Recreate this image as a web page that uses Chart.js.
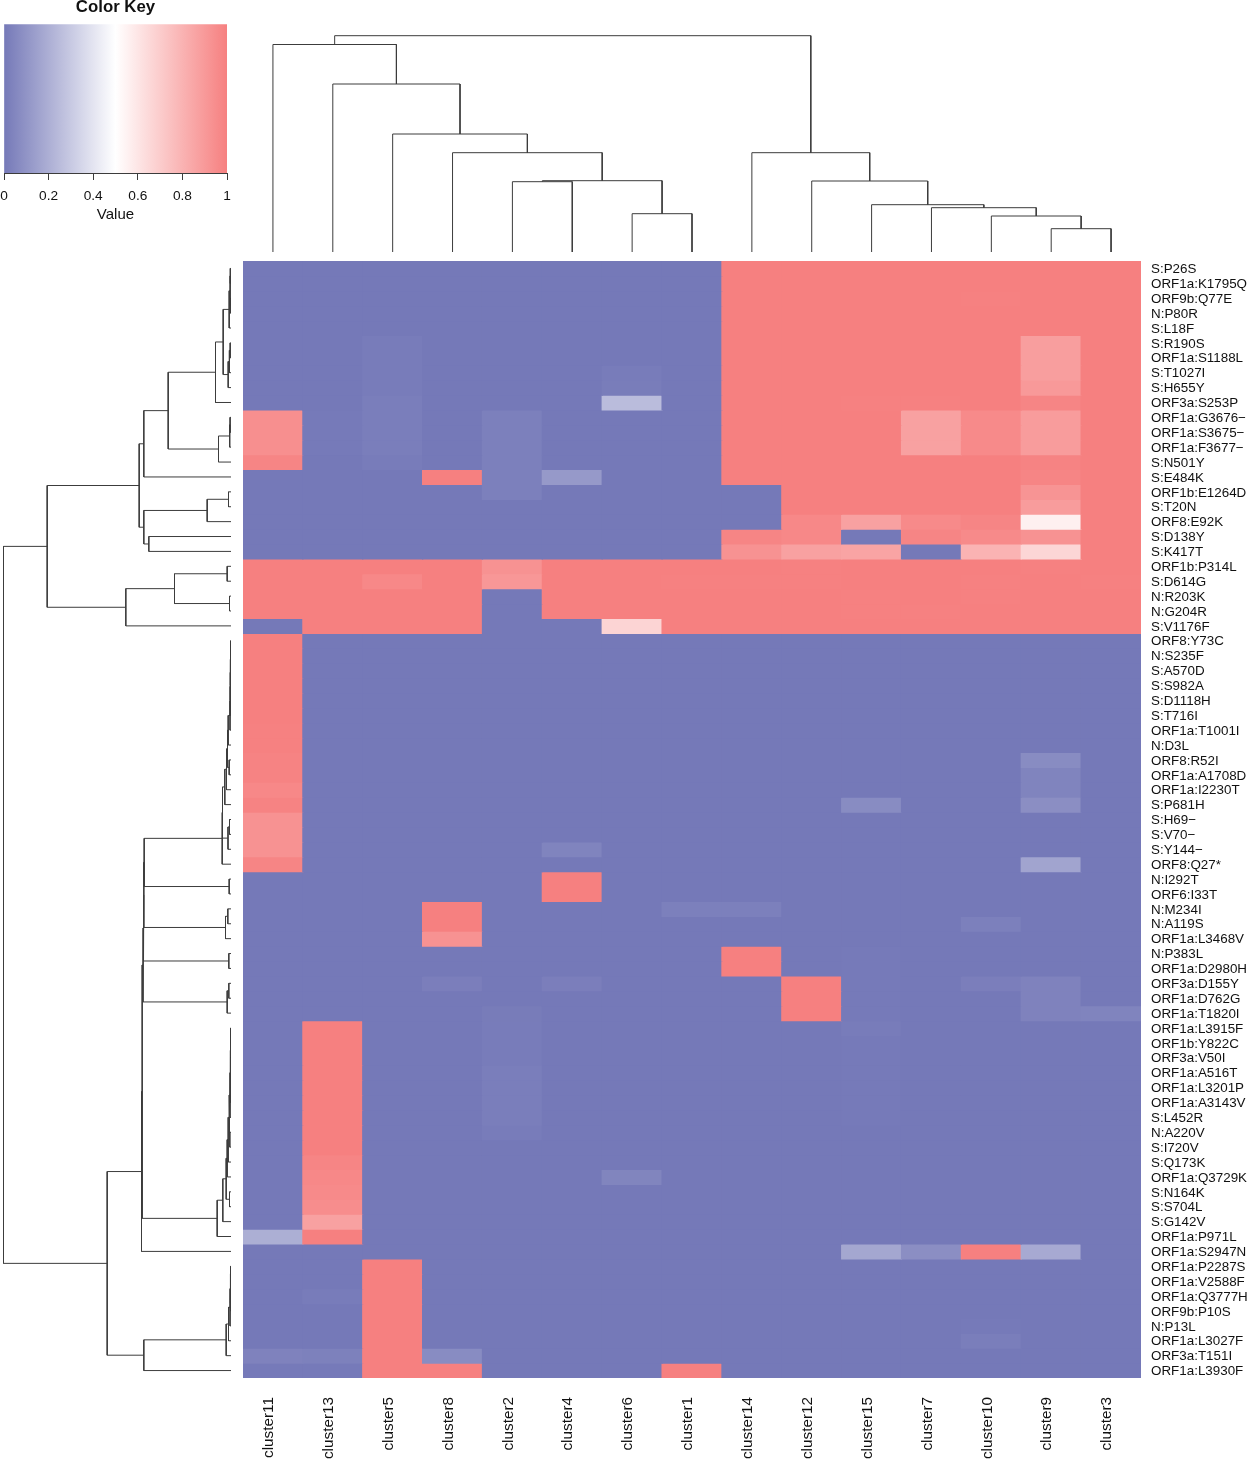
<!DOCTYPE html>
<html>
<head>
<meta charset="utf-8">
<title>Cluster mutation heatmap</title>
<script src="https://cdn.jsdelivr.net/npm/chart.js@4"></script>
<style>
  html, body { margin: 0; padding: 0; background: #fff; overflow: hidden; width: 1248px; height: 1460px; }
  canvas { position: absolute; }
  #keyChart { left: -20px; top: -3px; }
  #topChart { left: 243px; top: 30px; }
  #sideChart { left: 0; top: 261px; }
  #heatChart { left: 243px; top: 261px; }
</style>
</head>
<body>
<canvas id="keyChart" width="280" height="227"></canvas>
<canvas id="topChart" width="898" height="222"></canvas>
<canvas id="sideChart" width="231" height="1117"></canvas>
<canvas id="heatChart" width="1005" height="1199"></canvas>
<script>
const clusters = ["cluster11", "cluster13", "cluster5", "cluster8", "cluster2", "cluster4", "cluster6", "cluster1",
  "cluster14", "cluster12", "cluster15", "cluster7", "cluster10", "cluster9", "cluster3"];

const mutations = ["S:P26S", "ORF1a:K1795Q", "ORF9b:Q77E", "N:P80R", "S:L18F", "S:R190S", "ORF1a:S1188L", "S:T1027I",
  "S:H655Y", "ORF3a:S253P", "ORF1a:G3676−", "ORF1a:S3675−", "ORF1a:F3677−", "S:N501Y", "S:E484K", "ORF1b:E1264D",
  "S:T20N", "ORF8:E92K", "S:D138Y", "S:K417T", "ORF1b:P314L", "S:D614G", "N:R203K", "N:G204R", "S:V1176F",
  "ORF8:Y73C", "N:S235F", "S:A570D", "S:S982A", "S:D1118H", "S:T716I", "ORF1a:T1001I", "N:D3L", "ORF8:R52I",
  "ORF1a:A1708D", "ORF1a:I2230T", "S:P681H", "S:H69−", "S:V70−", "S:Y144−", "ORF8:Q27*", "N:I292T", "ORF6:I33T",
  "N:M234I", "N:A119S", "ORF1a:L3468V", "N:P383L", "ORF1a:D2980H", "ORF3a:D155Y", "ORF1a:D762G", "ORF1a:T1820I",
  "ORF1a:L3915F", "ORF1b:Y822C", "ORF3a:V50I", "ORF1a:A516T", "ORF1a:L3201P", "ORF1a:A3143V", "S:L452R", "N:A220V",
  "S:I720V", "S:Q173K", "ORF1a:Q3729K", "S:N164K", "S:S704L", "S:G142V", "ORF1a:P971L", "ORF1a:S2947N",
  "ORF1a:P2287S", "ORF1a:V2588F", "ORF1a:Q3777H", "ORF9b:P10S", "N:P13L", "ORF1a:L3027F", "ORF3a:T151I", "ORF1a:L3930F"];

// one row per mutation, columns in the order of clusters
const values = [
  [0,0,0,0,0,0,0,0,1,1,1,1,1,1,1],
  [0,0,0,0,0,0,0,0,1,1,1,1,1,1,1],
  [0,0,0,0,0,0,0,0,1,1,1,1,.995,1,1],
  [0,0,0,0,0,0,0,0,1,1,1,1,1,1,1],
  [0,0,0,0,0,0,0,0,1,1,1,1,1,1,1],
  [0,0,.012,0,0,0,0,0,1,1,1,1,1,.88,1],
  [0,0,.012,0,0,0,0,0,1,1,1,1,1,.88,1],
  [0,0,.012,0,0,0,.012,0,1,1,1,1,1,.88,1],
  [0,0,.012,0,0,0,.015,0,1,1,1,1,1,.9,1],
  [0,0,.018,0,0,0,.25,0,1,1,.995,.995,1,.98,1],
  [.94,.005,.018,0,.025,0,0,0,1,1,1,.87,.96,.89,1],
  [.94,.005,.018,0,.025,0,0,0,1,1,1,.87,.96,.89,1],
  [.94,.005,.018,0,.025,0,0,0,1,1,1,.87,.96,.89,1],
  [.98,0,.012,0,.025,0,0,0,1,1,1,1,1,.99,1],
  [0,0,0,1,.025,.12,0,0,1,1,1,1,1,.98,1],
  [0,0,0,0,.025,0,0,0,0,1,1,1,1,.92,1],
  [0,0,0,0,0,0,0,0,0,1,1,1,1,.89,1],
  [0,0,0,0,0,0,0,0,0,.97,.87,.96,.98,.56,1],
  [0,0,0,0,0,0,0,0,.98,.97,0,.98,.96,.93,1],
  [0,0,0,0,0,0,0,0,.93,.87,.86,0,.8,.66,1],
  [1,1,1,1,.93,1,1,1,1,.995,1,1,1,.995,1],
  [1,1,.97,1,.91,1,1,.995,.995,.995,1,1,.995,1,.995],
  [1,1,1,1,0,1,1,1,1,1,.995,1,.995,1,1],
  [1,1,1,1,0,1,1,1,1,1,.995,.995,1,1,1],
  [0,1,1,1,0,0,.67,1,1,1,1,1,1,1,1],
  [1,0,0,0,0,0,0,0,0,0,0,0,0,0,0],
  [1,0,0,0,0,0,0,0,0,0,0,0,0,0,0],
  [1,0,0,0,0,0,0,0,0,0,0,0,0,0,0],
  [1,0,0,0,0,0,0,0,0,0,0,0,0,0,0],
  [1,0,0,0,0,0,0,0,0,0,0,0,0,0,0],
  [1,0,0,0,0,0,0,0,0,0,0,0,0,0,0],
  [.995,0,0,0,0,0,0,0,0,0,0,0,0,0,0],
  [.995,0,0,0,0,0,0,0,0,0,0,0,0,0,0],
  [.99,0,0,0,0,0,0,0,0,0,0,0,0,.07,0],
  [.99,0,0,0,0,0,0,0,0,0,0,0,0,.04,0],
  [.97,0,0,0,0,0,0,0,0,0,0,0,0,.04,0],
  [.99,0,0,0,0,0,0,0,0,0,.07,0,0,.08,0],
  [.93,0,0,0,0,0,0,0,0,0,0,0,0,0,0],
  [.93,0,0,0,0,0,0,0,0,0,0,0,0,0,0],
  [.93,0,0,0,0,.04,0,0,0,0,0,0,0,0,0],
  [.98,0,0,0,0,0,0,0,0,0,0,0,0,.16,0],
  [0,0,0,0,0,1,0,0,0,0,0,0,0,0,0],
  [0,0,0,0,0,1,0,0,0,0,0,0,0,0,0],
  [0,0,0,1,0,0,0,.025,.025,0,0,0,0,0,0],
  [0,0,0,1,0,0,0,0,0,0,0,0,.025,0,0],
  [0,0,0,.93,0,0,0,0,0,0,0,0,0,0,0],
  [0,0,0,0,0,0,0,0,1,0,.005,0,0,0,0],
  [0,0,0,0,0,0,0,0,1,0,.005,0,0,0,0],
  [0,0,0,.02,0,.02,0,0,0,1,.005,0,.02,.035,0],
  [0,0,0,0,0,0,0,0,0,1,.005,0,0,.035,0],
  [0,0,0,0,.01,0,0,0,0,1,.005,0,0,.035,.04],
  [0,1,0,0,.012,0,0,0,0,0,.012,0,0,0,0],
  [0,1,0,0,.012,0,0,0,0,0,.005,0,0,0,0],
  [0,1,0,0,.012,0,0,0,0,0,.005,0,0,0,0],
  [0,1,0,0,.018,0,0,0,0,0,.005,0,0,0,0],
  [0,1,0,0,.018,0,0,0,0,0,.005,0,0,0,0],
  [0,1,0,0,.018,0,0,0,0,0,.005,0,0,0,0],
  [0,1,0,0,.018,0,0,0,0,0,.005,0,0,0,0],
  [0,1,0,0,.012,0,0,0,0,0,0,0,0,0,0],
  [0,1,0,0,0,0,0,0,0,0,0,0,0,0,0],
  [0,.98,0,0,0,0,0,0,0,0,0,0,0,0,0],
  [0,.97,0,0,0,0,.045,0,0,0,0,0,0,0,0],
  [0,.96,0,0,0,0,0,0,0,0,0,0,0,0,0],
  [0,.95,0,0,0,0,0,0,0,0,0,0,0,0,0],
  [0,.87,0,0,0,0,0,0,0,0,0,0,0,0,0],
  [.2,1,0,0,0,0,0,0,0,0,0,0,0,0,0],
  [0,0,0,0,0,0,0,0,0,0,.17,.08,1,.18,0],
  [0,0,1,0,0,0,0,0,0,0,0,0,0,0,0],
  [0,0,1,0,0,0,0,0,0,0,0,0,0,0,0],
  [0,.012,1,0,0,0,0,0,0,0,0,0,0,0,0],
  [0,0,1,0,0,0,0,0,0,0,0,0,0,0,0],
  [0,0,1,0,0,0,0,0,0,0,0,0,.005,0,0],
  [0,0,1,0,0,0,0,0,0,0,0,0,.018,0,0],
  [.035,.03,1,.07,0,0,0,0,0,0,0,0,0,0,0],
  [.005,.005,1,1,0,0,0,1,0,0,0,0,0,0,0]
];

const keyTicks = [0, 0.2, 0.4, 0.6, 0.8, 1];

// dendrograms: [merge height, left child, right child], plain numbers are leaf positions (from 1)
const colLeft = [207.5, 1, [168, 2, [118, 3, [99.3, 4, [71.3, [70.3, 5, 6], [38.3, 7, 8]]]]]];
const colRight = [99.3, 9, [71, 10, [47.3, 11, [44.3, 12, [36, 13, [23.3, 14, 15]]]]]];
const colTree = [216.3, colLeft, colRight];

const rowsA = [15.5, [7.8, [1.8, [1, [.7, 1, 2], [.7, 3, 4]], 5], [2.8, [1.6, [.8, 6, 7], 8], 9]], 10];
const rowsB = [12.5, [1.3, [.9, 11, 12], 13], 14];
const rowsC = [87.2, [23.8, [2.5, 16, 17], 18], [82.2, 19, 20]];
const rowsD = [105.2, [56.5, [3.8, 21, 22], [1.5, 23, 24]], 25];
const rowsTop = [183.8, [91.8, [87.2, [62.8, rowsA, rowsB], 15], rowsC], rowsD];

const chain26 = [2.8, [1, [.8, [.7, [.6, [.5, [.4, 26, 27], 28], 29], 30], 31], 32], 33];
const rowsG1 = [8.8, [8.5, [6.2, [4.5, [3.5, chain26, [1.8, 34, 35]], 36], 37], [3, [1.5, 38, 39], 40]], 41];
const rowsG2 = [1.8, 42, 43];
const rowsG3 = [5.5, [3.2, 44, 45], 46];
const rowsG4 = [2.2, 47, 48];
const rowsG5 = [3.8, [2.2, 49, 50], 51];
const chain52 = [1, [.7, [.5, [.4, 52, 53], [.4, 54, 55]], [.4, 56, 57]], 58];
const rowsG6 = [13.8, [8.2, [4.8, [3.8, [2.8, [2, chain52, [1.2, 59, 60]], 61], 62], [1.5, 63, 64]], 65], 66];
const rowsLow = [4.8, [2.5, [1, [.6, [.4, 68, 69], [.4, 70, 71]], 72], 73], 74];
const rowsMid = [89.5, [88.8, [88, [87.5, [87.2, [86.8, rowsG1, rowsG2], rowsG3], rowsG4], rowsG5], rowsG6], 67];
const rowTree = [227.5, rowsTop, [123.8, rowsMid, [87.2, rowsLow, 75]]];

const LOW = [117, 121, 184];
const HIGH = [246, 128, 128];
const INK = "#3c3c3c";

function rgb(c) { return `rgb(${c[0]}, ${c[1]}, ${c[2]})`; }

function colorFor(v) {
  const end = v < 0.5 ? LOW : HIGH;
  const t = Math.abs(v - 0.5) * 2;
  return rgb(end.map((e) => Math.round(255 + (e - 255) * t)));
}

// walks a tree and gives back one polyline per merge, as [position, height] pairs
function treeSegments(tree) {
  const segments = [];
  function walk(node) {
    if (typeof node === "number") return { pos: node - 0.5, h: 0 };
    const a = walk(node[1]);
    const b = walk(node[2]);
    segments.push([[a.pos, a.h], [a.pos, node[0]], [b.pos, node[0]], [b.pos, b.h]]);
    return { pos: (a.pos + b.pos) / 2, h: node[0] };
  }
  walk(tree);
  return segments;
}

// axis labels may stick out of the plot, the page layout wants the plot at a fixed place
function noOverhang(s) {
  s.paddingTop = 0;
  s.paddingBottom = 0;
  s.paddingLeft = 0;
  s.paddingRight = 0;
}

Chart.defaults.font.family = "'Liberation Sans', Arial, sans-serif";
Chart.defaults.color = "#111";
Chart.defaults.animation = false;
Chart.defaults.responsive = false;
Chart.defaults.plugins.legend.display = false;
Chart.defaults.plugins.tooltip.enabled = false;

// ---- heatmap ----
new Chart(document.getElementById("heatChart"), {
  type: "bar",
  data: {
    labels: clusters,
    datasets: mutations.map((m, r) => ({
      label: m,
      data: clusters.map(() => [r, r + 1]),
      backgroundColor: values[r].map(colorFor),
      borderWidth: 0,
      inflateAmount: 0.6,
      barPercentage: 1,
      categoryPercentage: 1,
      grouped: false
    }))
  },
  options: {
    layout: { padding: 0 },
    scales: {
      x: {
        grid: { display: false, drawTicks: false },
        border: { display: false },
        afterFit: (s) => { s.height = 82; noOverhang(s); },
        ticks: { autoSkip: false, minRotation: 90, maxRotation: 90, padding: 19, labelOffset: -4, font: { size: 15.3 } }
      },
      y: {
        position: "right",
        min: 0,
        max: 75,
        reverse: true,
        grid: { display: false, drawTicks: false },
        border: { display: false },
        afterFit: (s) => { s.width = 107; noOverhang(s); },
        afterBuildTicks: (s) => { s.ticks = mutations.map((m, i) => ({ value: i + 0.5 })); },
        ticks: { autoSkip: false, padding: 10, labelOffset: 1, font: { size: 13.4 }, callback: (v, i) => mutations[i] }
      }
    }
  }
});

// ---- column dendrogram ----
new Chart(document.getElementById("topChart"), {
  type: "scatter",
  data: {
    datasets: treeSegments(colTree).map((seg) => ({
      data: seg.map((p) => ({ x: p[0], y: p[1] })),
      showLine: true,
      borderColor: INK,
      borderWidth: 1,
      pointRadius: 0,
      clip: false
    }))
  },
  options: {
    layout: { padding: 0 },
    scales: {
      x: { display: false, min: 0, max: clusters.length },
      y: { display: false, min: 0, max: 222 }
    }
  }
});

// ---- row dendrogram ----
new Chart(document.getElementById("sideChart"), {
  type: "scatter",
  data: {
    datasets: treeSegments(rowTree).map((seg) => ({
      data: seg.map((p) => ({ x: p[1], y: p[0] })),
      showLine: true,
      borderColor: INK,
      borderWidth: 1,
      pointRadius: 0,
      clip: false
    }))
  },
  options: {
    layout: { padding: 0 },
    scales: {
      x: { display: false, min: 0, max: 231, reverse: true },
      y: { display: false, min: 0, max: mutations.length, reverse: true }
    }
  }
});

// ---- colour key ----
new Chart(document.getElementById("keyChart"), {
  type: "bar",
  data: {
    labels: ["Value"],
    datasets: [{
      data: [[0, 1]],
      barPercentage: 1,
      categoryPercentage: 1,
      borderWidth: 0,
      backgroundColor: (ctx) => {
        const area = ctx.chart.chartArea;
        if (!area) return rgb(LOW);
        const g = ctx.chart.ctx.createLinearGradient(area.left, 0, area.right, 0);
        g.addColorStop(0, colorFor(0));
        g.addColorStop(0.5, colorFor(0.5));
        g.addColorStop(1, colorFor(1));
        return g;
      }
    }]
  },
  options: {
    indexAxis: "y",
    layout: { padding: { left: 24, right: 33, top: 0, bottom: 0 } },
    plugins: {
      title: {
        display: true,
        text: "Color Key",
        color: "#111",
        font: { size: 16.8, weight: "bold" },
        padding: { top: 0, bottom: 7 }
      }
    },
    scales: {
      y: { display: false },
      x: {
        min: 0,
        max: 1,
        grid: { display: true, drawOnChartArea: false, drawTicks: true, tickLength: 7, tickColor: INK },
        border: { display: true, color: INK, width: 1 },
        afterFit: (s) => { s.height = 51; },
        afterBuildTicks: (s) => { s.ticks = keyTicks.map((v) => ({ value: v })); },
        ticks: { autoSkip: false, maxRotation: 0, padding: 8, font: { size: 13.7 }, callback: (v) => String(v) },
        title: { display: true, text: "Value", color: "#111", font: { size: 15 }, padding: { top: 1, bottom: 0 } }
      }
    }
  }
});
</script>
</body>
</html>
